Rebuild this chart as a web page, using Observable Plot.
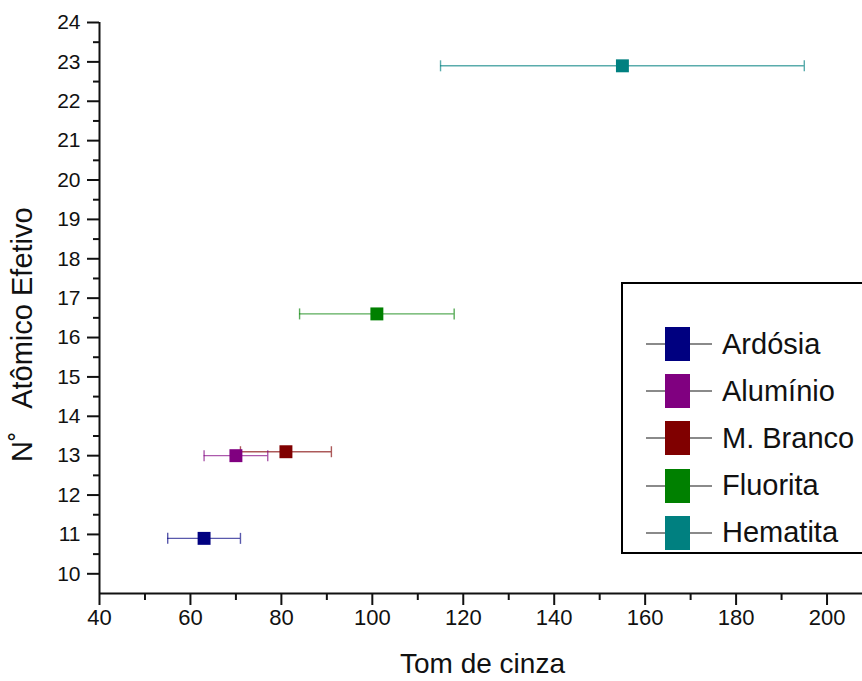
<!DOCTYPE html>
<html><head><meta charset="utf-8">
<script src="https://cdn.jsdelivr.net/npm/d3@7"></script>
<script src="https://cdn.jsdelivr.net/npm/@observablehq/plot@0.6"></script>
<style>
body{margin:0;background:#fff;font-family:Arial,"Liberation Sans",sans-serif;overflow:hidden}
#wrap{position:relative;width:862px;height:681px;overflow:hidden;background:#fff}
#wrap > svg{position:absolute;left:0;top:0}
#wrap > svg text{font-size:22px !important}
#wrap > svg g[text-anchor="end"] text{font-size:21px !important}
#legend{position:absolute;left:621px;top:282px;width:270px;height:272px;border:2px solid #000;background:#fff;box-sizing:border-box}
.row{position:absolute;left:0;height:36px;display:flex;align-items:center}
.row svg{display:block}
.row span{font-size:29px;color:#111;margin-left:6px;white-space:nowrap}
.xlab{position:absolute;font-size:28px;color:#111;white-space:nowrap}
.ylab{position:absolute;font-size:29px;color:#111;white-space:pre;transform-origin:0 0}
</style></head><body><div id="wrap"></div>
<script>
const materials = ["Ardósia", "Alumínio", "M. Branco", "Fluorita", "Hematita"];
const grayTone = [63, 70, 81, 101, 155];
const grayError = [8, 7, 10, 17, 40];
const effectiveZ = [10.9, 13.0, 13.1, 16.6, 22.9];
const colors = ["#000080", "#800080", "#800000", "#008000", "#008080"];
const xMajor = [40, 60, 80, 100, 120, 140, 160, 180, 200];
const xMinor = [50, 70, 90, 110, 130, 150, 170, 190];
const yMajor = [10, 11, 12, 13, 14, 15, 16, 17, 18, 19, 20, 21, 22, 23, 24];
const yMinor = [10.5, 11.5, 12.5, 13.5, 14.5, 15.5, 16.5, 17.5, 18.5, 19.5, 20.5, 21.5, 22.5, 23.5];
const xLabel = "Tom de cinza";
const yLabel = "N˚   Atômico Efetivo";

const data = materials.map((m, i) => ({
  m, x: grayTone[i], e: grayError[i], lo: grayTone[i] - grayError[i], hi: grayTone[i] + grayError[i],
  y: effectiveZ[i], c: colors[i]
}));

const cap = {draw(ctx, size) { const r = Math.sqrt(size / Math.PI); ctx.moveTo(0, -r); ctx.lineTo(0, r); }};

const chart = Plot.plot({
  width: 862, height: 681,
  marginLeft: 99, marginRight: 0, marginTop: 22, marginBottom: 88,
  style: {fontFamily: "Arial, 'Liberation Sans', sans-serif", fontSize: "21px", color: "#111", background: "transparent"},
  x: {domain: [40, 207.8]},
  y: {domain: [9.5, 24]},
  color: {type: "identity"},
  marks: [
    Plot.axisX({ticks: xMajor, tickSize: 12, tickPadding: 4, strokeWidth: 2, label: null}),
    Plot.axisX({ticks: xMinor, tickSize: 7, tickFormat: () => "", strokeWidth: 2, label: null}),
    Plot.axisY({ticks: yMajor, tickSize: 12, tickPadding: 7, strokeWidth: 2, label: null}),
    Plot.axisY({ticks: yMinor, tickSize: 6, tickFormat: () => "", strokeWidth: 2, label: null}),
    Plot.ruleX([40], {y1: 9.5, y2: 24, strokeWidth: 2}),
    Plot.ruleY([9.5], {strokeWidth: 2}),
    Plot.ruleY(data, {x1: "lo", x2: "hi", y: "y", stroke: "c", strokeOpacity: 0.65, strokeWidth: 1.4}),
    Plot.dot(data, {x: "lo", y: "y", symbol: cap, r: 5.5, stroke: "c", strokeOpacity: 0.65, strokeWidth: 1.4, fill: "none"}),
    Plot.dot(data, {x: "hi", y: "y", symbol: cap, r: 5.5, stroke: "c", strokeOpacity: 0.65, strokeWidth: 1.4, fill: "none"}),
    Plot.dot(data, {x: "x", y: "y", symbol: "square", r: 7.3, fill: "c", stroke: null})
  ]
});

const wrap = document.getElementById("wrap");
wrap.appendChild(chart);

const xl = document.createElement("div");
xl.className = "xlab"; xl.textContent = xLabel;
xl.style.left = "400px"; xl.style.top = "648px";
wrap.appendChild(xl);

const yl = document.createElement("div");
yl.className = "ylab"; yl.textContent = yLabel;
yl.style.left = "6px"; yl.style.top = "462px"; yl.style.transform = "rotate(-90deg)";
wrap.appendChild(yl);

const legend = document.createElement("div");
legend.id = "legend";
materials.forEach((m, i) => {
  const row = document.createElement("div");
  row.className = "row";
  row.style.top = (42 + i * 47.2) + "px";
  row.innerHTML = `<svg width="93" height="36"><line x1="23" x2="89" y1="18" y2="18" stroke="#8a8a8a" stroke-width="2"/><rect x="42" y="1" width="25" height="34" fill="${colors[i]}"/></svg><span>${m}</span>`;
  legend.appendChild(row);
});
wrap.appendChild(legend);
</script>
</body></html>
